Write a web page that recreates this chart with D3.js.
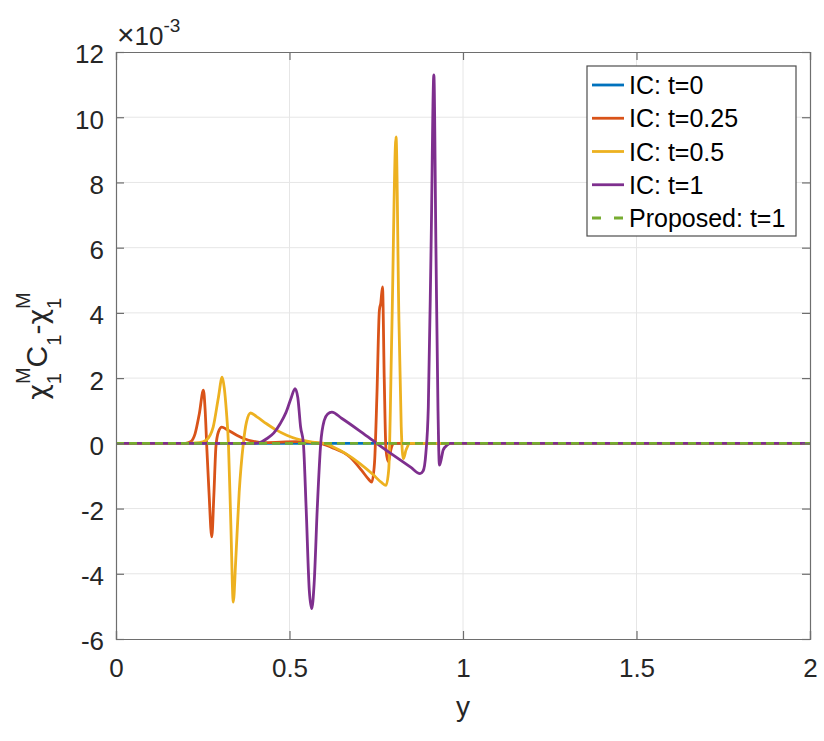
<!DOCTYPE html>
<html>
<head>
<meta charset="utf-8">
<script src="https://cdn.jsdelivr.net/npm/d3@7"></script>
<style>
  html, body { margin: 0; padding: 0; background: #fff; }
  svg { display: block; font-family: "Liberation Sans", Arial, Helvetica, sans-serif; }
</style>
</head>
<body>
<svg id="chart" width="824" height="741"></svg>
<script>
// --- data (values in units of 1e-3) ---
const xTicks = [0, 0.5, 1, 1.5, 2];
const yTicks = [-6, -4, -2, 0, 2, 4, 6, 8, 10, 12];

const icT0 = [[0, 0], [2, 0]];

const icT025 = [
  [0, 0], [0.2, 0], [0.215, 0.05], [0.228, 0.3], [0.24, 0.9], [0.252, 1.63],
  [0.257, 1.0], [0.262, -0.2], [0.268, -1.5], [0.276, -2.87], [0.282, -1.6],
  [0.288, -0.1], [0.295, 0.35], [0.305, 0.5], [0.32, 0.42], [0.348, 0.25],
  [0.37, 0.14], [0.396, 0.06], [0.43, 0.02], [0.52, 0.05], [0.588, 0],
  [0.62, -0.12], [0.674, -0.42], [0.708, -0.83], [0.728, -1.1], [0.737, -1.19],
  [0.745, -0.6], [0.752, 1.5], [0.759, 4.08], [0.763, 4.3], [0.768, 4.8],
  [0.773, 2.0], [0.778, -0.2], [0.785, -0.57], [0.792, -0.2], [0.8, 0], [2, 0]
];

const icT05 = [
  [0, 0], [0.2, 0], [0.24, 0.02], [0.26, 0.1], [0.28, 0.5], [0.295, 1.4],
  [0.306, 2.03], [0.312, 1.7], [0.318, 1.0], [0.324, 0], [0.331, -2.5],
  [0.338, -4.87], [0.345, -3.6], [0.355, -1.5], [0.367, 0], [0.376, 0.65],
  [0.388, 0.93], [0.405, 0.82], [0.434, 0.6], [0.46, 0.42], [0.492, 0.25],
  [0.52, 0.14], [0.55, 0.07], [0.58, 0.02], [0.6, 0], [0.626, -0.11],
  [0.66, -0.3], [0.703, -0.62], [0.74, -0.95], [0.765, -1.2], [0.778, -1.29],
  [0.786, -0.8], [0.795, 3.5], [0.807, 9.4], [0.815, 4.0], [0.822, 0.5],
  [0.828, -0.47], [0.836, -0.2], [0.847, 0], [2, 0]
];

const icT1 = [
  [0, 0], [0.4, 0], [0.42, 0.05], [0.434, 0.14], [0.455, 0.32], [0.473, 0.6],
  [0.49, 0.95], [0.505, 1.4], [0.516, 1.68], [0.524, 1.4], [0.532, 0.5],
  [0.54, 0], [0.548, -2.0], [0.557, -4.5], [0.564, -5.07], [0.571, -4.3],
  [0.58, -2.0], [0.59, 0], [0.6, 0.7], [0.61, 0.9], [0.622, 0.96],
  [0.65, 0.77], [0.7, 0.4], [0.751, 0], [0.8, -0.37], [0.85, -0.74],
  [0.876, -0.93], [0.885, -0.85], [0.893, -0.3], [0.9, 1.1], [0.908, 6],
  [0.916, 11.3], [0.922, 6], [0.928, 1.0], [0.932, -0.67], [0.937, -0.5],
  [0.943, -0.2], [0.955, -0.05], [0.963, 0], [2, 0]
];

const proposedT1 = [[0, 0], [2, 0]];

const seriesNames = ["IC: t=0", "IC: t=0.25", "IC: t=0.5", "IC: t=1", "Proposed: t=1"];
const seriesColors = ["#0072BD", "#D95319", "#EDB120", "#7E2F8E", "#77AC30"];
const seriesData = [icT0, icT025, icT05, icT1, proposedT1];
const seriesDashed = [false, false, false, false, true];

(function() {
  // --- layout ---
  const svg = d3.select("#chart");
  const mLeft = 116, mRight = 810, mTop = 52, mBottom = 639;
  const tickLen = 8;
  const axisColor = "#6e6e6e";
  const fs = 26;

  const x = d3.scaleLinear().domain([0, 2]).range([mLeft, mRight]);
  const y = d3.scaleLinear().domain([-6, 12]).range([mBottom, mTop]);

  // grid
  const grid = svg.append("g").attr("stroke", "#e6e6e6").attr("stroke-width", 1);
  grid.selectAll("line.gx")
    .data(xTicks.slice(1, -1))
    .join("line")
    .attr("class", "gx")
    .attr("x1", d => x(d)).attr("x2", d => x(d))
    .attr("y1", mTop).attr("y2", mBottom);
  grid.selectAll("line.gy")
    .data(yTicks.slice(1, -1))
    .join("line")
    .attr("class", "gy")
    .attr("x1", mLeft).attr("x2", mRight)
    .attr("y1", d => y(d)).attr("y2", d => y(d));

  // lines
  const line = d3.line()
    .x(d => x(d[0]))
    .y(d => y(d[1]))
    .curve(d3.curveMonotoneX);

  const plot = svg.append("g");
  seriesData.forEach((data, i) => {
    plot.append("path")
      .datum(data)
      .attr("d", line)
      .attr("fill", "none")
      .attr("stroke", seriesColors[i])
      .attr("stroke-width", 2.8)
      .attr("stroke-linejoin", "round")
      .attr("stroke-dasharray", seriesDashed[i] ? "8,5" : null);
  });

  // axes (box with inward ticks on all four sides)
  const bottomAxis = d3.axisBottom(x).tickValues(xTicks).tickSize(-tickLen).tickPadding(20)
    .tickFormat(d3.format("~g"));
  const topAxis = d3.axisTop(x).tickValues(xTicks).tickSize(-tickLen).tickFormat("");
  const leftAxis = d3.axisLeft(y).tickValues(yTicks).tickSize(-tickLen).tickPadding(12)
    .tickFormat(d => d3.format("~g")(d).replace("−", "-"));
  const rightAxis = d3.axisRight(y).tickValues(yTicks).tickSize(-tickLen).tickFormat("");

  function styleAxis(g) {
    g.select(".domain").attr("stroke", axisColor).attr("stroke-width", 1.2);
    g.selectAll(".tick line").attr("stroke", axisColor).attr("stroke-width", 1.2);
    g.selectAll(".tick text")
      .attr("fill", "#262626")
      .attr("font-size", fs)
      .attr("font-family", "Liberation Sans, Arial, sans-serif");
  }

  svg.append("g").attr("transform", `translate(0,${mBottom})`).call(bottomAxis).call(styleAxis)
    .selectAll(".tick text").attr("dy", "0.71em");
  svg.append("g").attr("transform", `translate(0,${mTop})`).call(topAxis).call(styleAxis);
  svg.append("g").attr("transform", `translate(${mLeft},0)`).call(leftAxis).call(styleAxis)
    .selectAll(".tick text").attr("dy", "0.42em");
  svg.append("g").attr("transform", `translate(${mRight},0)`).call(rightAxis).call(styleAxis);

  // exponent label
  const expo = svg.append("text")
    .attr("x", 117).attr("y", 45)
    .attr("fill", "#262626")
    .attr("font-size", fs);
  expo.append("tspan").attr("font-size", 30).attr("font-weight", 300).text("×");
  expo.append("tspan").text("10");
  expo.append("tspan").attr("font-size", 19).attr("dy", -13).text("-3");

  // x label
  svg.append("text")
    .attr("x", (mLeft + mRight) / 2).attr("y", 716)
    .attr("text-anchor", "middle")
    .attr("fill", "#262626")
    .attr("font-size", 28)
    .text("y");

  // y label: chi_1^M C_1 - chi_1^M
  const yl = svg.append("text")
    .attr("transform", "translate(47,346) rotate(-90)")
    .attr("text-anchor", "middle")
    .attr("fill", "#262626")
    .attr("font-size", 30);
  const sub = 20;
  const chiFont = "DejaVu Sans, Noto Sans, sans-serif";
  yl.append("tspan").attr("font-family", chiFont).attr("font-size", 27).text("χ");
  yl.append("tspan").attr("font-size", sub).attr("dy", 14).text("1");
  yl.append("tspan").attr("font-size", sub).attr("dx", -11).attr("dy", -31).text("M");
  yl.append("tspan").attr("dy", 17).text("C");
  yl.append("tspan").attr("font-size", sub).attr("dy", 14).text("1");
  yl.append("tspan").attr("dy", -14).text("-");
  yl.append("tspan").attr("font-family", chiFont).attr("font-size", 27).text("χ");
  yl.append("tspan").attr("font-size", sub).attr("dy", 14).text("1");
  yl.append("tspan").attr("font-size", sub).attr("dx", -11).attr("dy", -31).text("M");

  // legend
  const lg = svg.append("g");
  lg.append("rect")
    .attr("x", 587).attr("y", 66)
    .attr("width", 209).attr("height", 170)
    .attr("fill", "#fff")
    .attr("stroke", "#4d4d4d")
    .attr("stroke-width", 1.2);
  const rowY = d3.scaleLinear().domain([0, 4]).range([85, 218]);
  seriesNames.forEach((name, i) => {
    lg.append("line")
      .attr("x1", 592).attr("x2", 624)
      .attr("y1", rowY(i)).attr("y2", rowY(i))
      .attr("stroke", seriesColors[i])
      .attr("stroke-width", 2.8)
      .attr("stroke-dasharray", seriesDashed[i] ? "9,13" : null);
    lg.append("text")
      .attr("x", 629).attr("y", rowY(i) + 9)
      .attr("fill", "#000")
      .attr("font-size", 25)
      .text(name);
  });
})();
</script>
</body>
</html>
